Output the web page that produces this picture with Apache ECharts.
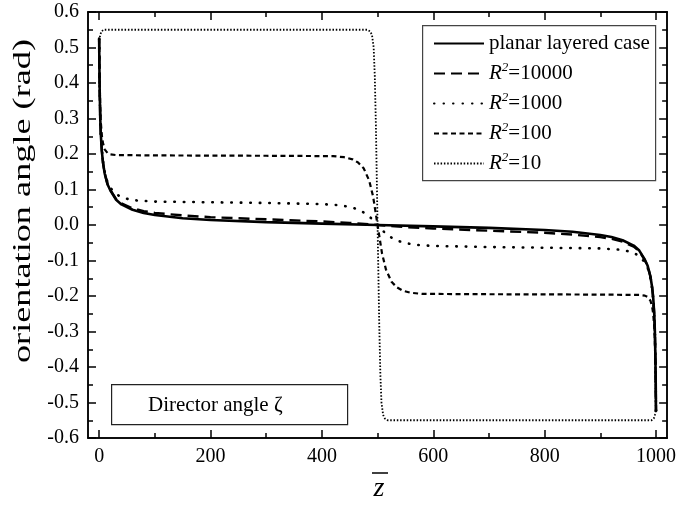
<!DOCTYPE html>
<html>
<head>
<meta charset="utf-8">
<script src="https://cdn.jsdelivr.net/npm/echarts@6/dist/echarts.min.js"></script>
<style>html,body{margin:0;padding:0;background:#fff;}#c{width:679px;height:505px;}</style>
</head>
<body>
<div id="c"></div>
<script>
// ---- data ----
const seriesNames = ['planar layered case', 'R2=10000', 'R2=1000', 'R2=100', 'R2=10'];

const zPlanar = [0,0.5,1,2,3,5,7,10,15,20,30,40,60,80,100,150,200,300,400,500,600,700,800,850,900,920,940,960,970,980,985,990,993,995,997,998,999,999.5,1000];
const vPlanar = [0.525,0.44,0.38,0.30,0.255,0.205,0.175,0.145,0.115,0.098,0.072,0.058,0.043,0.034,0.028,0.019,0.014,0.008,0.004,0,-0.004,-0.008,-0.014,-0.019,-0.028,-0.034,-0.043,-0.058,-0.072,-0.098,-0.115,-0.145,-0.175,-0.205,-0.255,-0.30,-0.38,-0.44,-0.525];

const zR10000 = [0,0.5,1,2,3,5,7,10,15,20,30,40,60,80,100,150,200,300,400,450,500,550,600,700,800,850,900,920,940,960,970,980,985,990,993,995,997,998,999,999.5,1000];
const vR10000 = [0.525,0.44,0.38,0.30,0.255,0.205,0.175,0.145,0.116,0.099,0.074,0.061,0.047,0.039,0.034,0.027,0.022,0.016,0.010,0.006,0,-0.006,-0.010,-0.016,-0.022,-0.027,-0.034,-0.039,-0.047,-0.061,-0.074,-0.099,-0.116,-0.145,-0.175,-0.205,-0.255,-0.30,-0.38,-0.44,-0.525];

const zR1000 = [0,1,2,3,5,7,10,15,20,30,40,60,100,200,300,400,430,450,465,480,490,500,510,520,535,550,570,600,700,800,900,940,960,970,980,985,990,993,995,997,998,999,1000];
const vR1000 = [0.525,0.38,0.30,0.26,0.21,0.18,0.15,0.12,0.105,0.088,0.078,0.070,0.066,0.064,0.062,0.059,0.056,0.051,0.044,0.031,0.017,0,-0.017,-0.031,-0.044,-0.051,-0.056,-0.059,-0.062,-0.064,-0.066,-0.070,-0.078,-0.088,-0.105,-0.12,-0.15,-0.18,-0.21,-0.26,-0.30,-0.38,-0.525];

const zR100 = [0,1,2,3,5,7,10,15,20,30,100,300,420,440,455,465,475,485,492,500,508,515,525,535,545,560,580,700,900,970,980,985,990,993,995,997,998,999,1000];
const vR100 = [0.525,0.40,0.33,0.29,0.25,0.23,0.213,0.203,0.199,0.197,0.196,0.195,0.194,0.191,0.185,0.176,0.16,0.125,0.08,0,-0.08,-0.125,-0.16,-0.176,-0.185,-0.191,-0.194,-0.195,-0.196,-0.197,-0.199,-0.203,-0.213,-0.23,-0.25,-0.29,-0.33,-0.40,-0.525];

const zR10 = [0,2,4,8,482,487,490,493,495,497,500,503,505,507,510,513,518,992,996,998,1000];
const vR10 = [0.52,0.535,0.545,0.55,0.55,0.545,0.535,0.50,0.42,0.28,0,-0.28,-0.42,-0.50,-0.535,-0.545,-0.55,-0.55,-0.545,-0.535,-0.52];

const xTicks = [0,200,400,600,800,1000];
const xMinorTicks = [100,300,500,700,900];
const yTicks = [-0.6,-0.5,-0.4,-0.3,-0.2,-0.1,0,0.1,0.2,0.3,0.4,0.5,0.6];
const yMinorTicks = [-0.55,-0.45,-0.35,-0.25,-0.15,-0.05,0.05,0.15,0.25,0.35,0.45,0.55];

const xLabelText = 'z';
const yLabelText = 'orientation angle (rad)';
const boxText = 'Director angle \u03B6';

// ---- chart ----
const FONT = 'Liberation Serif';
const zip = (a, b) => a.map((v, i) => [v, b[i]]);

function xAx(pos, ticks, len, labels) {
  return {
    type: 'value', position: pos, min: -20, max: 1020, gridIndex: 0,
    axisLine: { show: true, onZero: false, lineStyle: { color: '#000', width: 1.5 } },
    axisTick: { show: true, inside: true, length: len, customValues: ticks, lineStyle: { color: '#000', width: 1.5 } },
    axisLabel: labels ? { show: true, customValues: ticks, margin: 9, color: '#000', fontFamily: FONT, fontSize: 20,
      formatter: v => String(Math.round(v)) } : { show: false },
    splitLine: { show: false }
  };
}
function yAx(pos, ticks, len, labels) {
  return {
    type: 'value', position: pos, min: -0.6, max: 0.6, gridIndex: 0,
    axisLine: { show: true, onZero: false, lineStyle: { color: '#000', width: 1.5 } },
    axisTick: { show: true, inside: true, length: len, customValues: ticks, lineStyle: { color: '#000', width: 1.5 } },
    axisLabel: labels ? { show: true, customValues: ticks, margin: 9, color: '#000', fontFamily: FONT, fontSize: 20,
      formatter: v => (Math.abs(v) < 1e-9 ? 0 : v).toFixed(1) } : { show: false },
    splitLine: { show: false }
  };
}

const styles = [
  { width: 2.6, type: 'solid' },
  { width: 2.4, type: [11, 6] },
  { width: 2.6, type: [0.5, 9], cap: 'round' },
  { width: 2.2, type: [5, 3.5] },
  { width: 1.8, type: [1.5, 1.8] }
];
const dataSets = [zip(zPlanar, vPlanar), zip(zR10000, vR10000), zip(zR1000, vR1000), zip(zR100, vR100), zip(zR10, vR10)];

const series = seriesNames.map((n, i) => ({
  name: n, type: 'line', xAxisIndex: 0, yAxisIndex: 0,
  data: dataSets[i], showSymbol: false, symbol: 'none', smooth: false,
  lineStyle: Object.assign({ color: '#000' }, styles[i]),
  itemStyle: { color: '#000' }
}));

const chart = echarts.init(document.getElementById('c'), null, { renderer: 'canvas' });
chart.setOption({
  animation: false,
  backgroundColor: '#fff',
  grid: { left: 88, right: 8, top: 12, bottom: 67, containLabel: false },
  xAxis: [xAx('bottom', xTicks, 8, true), xAx('bottom', xMinorTicks, 5, false), xAx('top', xTicks, 8, false), xAx('top', xMinorTicks, 5, false)],
  yAxis: [yAx('left', yTicks, 8, true), yAx('left', yMinorTicks, 5, false), yAx('right', yTicks, 8, false), yAx('right', yMinorTicks, 5, false)],
  legend: {
    show: true, orient: 'vertical', left: 433, top: 33, padding: 0,
    itemWidth: 50, itemHeight: 14, itemGap: 7.5,
    itemStyle: { opacity: 0, borderWidth: 0 },
    data: seriesNames,
    formatter: function (name) {
      if (name.indexOf('R2=') === 0) return '{i|R}{s|2}{t|=' + name.slice(3) + '}';
      return '{t|' + name + '}';
    },
    textStyle: {
      color: '#000', fontFamily: FONT, fontSize: 21,
      rich: {
        t: { fontFamily: FONT, fontSize: 21, lineHeight: 24, color: '#000' },
        i: { fontFamily: FONT, fontSize: 21, fontStyle: 'italic', lineHeight: 24, color: '#000' },
        s: { fontFamily: FONT, fontSize: 13, fontStyle: 'italic', lineHeight: 14, verticalAlign: 'top', color: '#000' }
      }
    }
  },
  graphic: [
    { type: 'rect', left: 422, top: 25, shape: { width: 233, height: 155 }, style: { fill: 'rgba(0,0,0,0)', stroke: '#444', lineWidth: 1.2 }, z: 1 },
    { type: 'rect', left: 111, top: 384, shape: { width: 236, height: 40 }, style: { fill: '#fff', stroke: '#222', lineWidth: 1.2 }, z: 10 },
    { type: 'text', x: 148, y: 405, style: { text: boxText, font: '21px "Liberation Serif"', fill: '#000', textAlign: 'left', textVerticalAlign: 'middle' }, z: 11 },
    { type: 'text', x: 23, y: 201, rotation: Math.PI / 2, scaleX: 1.45, style: { text: yLabelText, font: '25px "Liberation Serif"', fill: '#000', textAlign: 'center', textVerticalAlign: 'middle' } },
    { type: 'text', x: 379, y: 489, style: { text: xLabelText, font: 'italic 28px "Liberation Serif"', fill: '#000', textAlign: 'center', textVerticalAlign: 'middle' } },
    { type: 'line', shape: { x1: 372, y1: 473, x2: 388, y2: 473 }, style: { stroke: '#000', lineWidth: 1.5 } }
  ],
  series: series
});
</script>
</body>
</html>
